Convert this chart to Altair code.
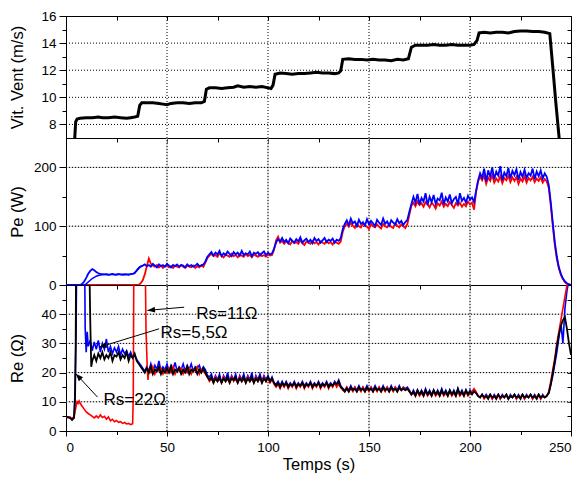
import math
import altair as alt
import pandas as pd

FONT = "Liberation Sans"

# ---------------- data ----------------
wind_t = [4.3, 4.8, 5.5, 7, 10, 13, 16, 18, 21, 24, 27, 30, 32, 34, 35.5, 36.5, 37.5, 40, 43, 46,
          48, 50, 52, 55, 58, 61, 64, 67, 68.5, 69.5, 71, 74, 77, 80, 83, 85, 88, 91, 94, 97,
          100, 101.5, 102.5, 103.5, 106, 109, 112, 115, 118, 121, 124, 127, 130, 133, 135, 136, 137, 140, 143, 146,
          149, 152, 155, 158, 161, 164, 167, 169.5, 171, 173, 176, 179, 182, 185, 188, 191, 194, 197, 200, 202,
          203.5, 204.5, 207, 210, 213, 216, 219, 222, 225, 228, 231, 234, 237, 239.5, 241, 242.5, 244.2]
wind_v = [6.9, 8.2, 8.4, 8.45, 8.5, 8.5, 8.55, 8.5, 8.5, 8.55, 8.5, 8.45, 8.5, 8.55, 8.6, 9.4, 9.6, 9.6, 9.6, 9.55,
          9.5, 9.45, 9.55, 9.6, 9.6, 9.55, 9.6, 9.6, 9.7, 10.6, 10.7, 10.7, 10.65, 10.7, 10.75, 10.85, 10.75, 10.8, 10.75, 10.8,
          10.7, 10.65, 10.9, 11.7, 11.8, 11.75, 11.7, 11.75, 11.75, 11.8, 11.85, 11.8, 11.8, 11.75, 11.8, 11.95, 12.8, 12.85, 12.8, 12.8,
          12.75, 12.8, 12.75, 12.75, 12.7, 12.8, 12.75, 12.85, 13.7, 13.85, 13.85, 13.85, 13.9, 13.85, 13.85, 13.9, 13.85, 13.85, 13.85, 13.9,
          14.2, 14.75, 14.8, 14.75, 14.8, 14.8, 14.75, 14.85, 14.9, 14.9, 14.85, 14.85, 14.8, 14.7, 12.2, 9.6, 6.9]

pe_t = list(range(251))
pe_blue = ([0] * 8 +
           [2, 6, 12, 19, 24, 27, 25, 22, 20, 19, 18.5, 18, 18.5, 17.5, 18, 19, 18, 17.5, 18.5, 18, 17.5, 18.5, 18, 17.5, 18.5, 19, 20] +
           [25, 29, 32, 33, 35, 32, 34, 31, 36, 33, 30, 35, 32, 34, 31, 36, 33, 30, 34, 32, 35, 31, 34, 33, 30, 35, 32, 34, 31, 33, 36, 32, 33, 35] +
           [40, 48, 52, 56, 50, 55, 52, 58, 49, 54, 51, 57, 53, 49, 56, 52, 55, 50, 58, 51, 54, 52, 57, 49, 55, 53, 56, 50, 54, 57, 51, 55, 52, 54] +
           [62, 72, 78, 74, 80, 73, 77, 71, 79, 75, 72, 78, 74, 81, 72, 76, 79, 73, 77, 71, 80, 75, 78, 72, 76, 80, 73, 77, 75, 79, 72, 77, 75, 80] +
           [95, 104, 110, 102, 113, 105, 108, 100, 111, 104, 107, 101, 112, 103, 109, 105, 100, 111, 106, 102, 113, 104, 108, 101, 110, 106, 103, 112, 105, 109, 102, 107, 111] +
           [125, 138, 150, 140, 155, 137, 148, 142, 156, 136, 150, 141, 153, 138, 147, 144, 157, 137, 149, 142, 154, 139, 146, 150, 137, 156, 143, 148, 140, 152, 145, 149, 141] +
           [160, 178, 190, 182, 198, 176, 195, 184, 200, 180, 193, 186, 202, 178, 191, 185, 199, 181, 194, 187, 197, 179, 192, 184, 196, 182, 190, 186, 198, 180, 193, 185, 195, 181, 190, 184] +
           [170, 140, 105, 72, 48, 30, 19, 11, 6, 3, 1, 0])
pe_red = ([0] * 37 +
          [3, 8, 18, 32, 45, 36] +
          [33, 31, 34, 30, 33, 29, 32, 34, 30, 32, 29, 33, 31, 30, 34, 31, 29, 33, 31, 30, 33, 29, 32, 30, 34, 31] +
          [38, 46, 50, 53, 49, 51, 48, 54, 50, 47, 52, 50, 48, 53, 49, 51, 47, 52, 50, 48, 53, 49, 51, 47, 52, 50, 48, 53, 49, 51, 48, 52, 50, 51] +
          [60, 76, 82, 72, 75, 70, 74, 72, 69, 75, 71, 73, 70, 76, 71, 68, 74, 72, 70, 75, 71, 73, 69, 74, 72, 70, 75, 71, 73, 69, 74, 72, 70, 74] +
          [90, 100, 104, 99, 106, 101, 97, 104, 100, 98, 105, 101, 99, 95, 104, 100, 98, 103, 99, 96, 104, 100, 98, 103, 99, 97, 105, 101, 98, 103, 100, 97, 104] +
          [120, 135, 140, 134, 142, 136, 139, 133, 141, 137, 132, 140, 136, 130, 139, 135, 142, 133, 138, 134, 141, 136, 131, 139, 135, 140, 133, 138, 134, 142, 137, 140, 128] +
          [158, 176, 184, 178, 186, 172, 183, 177, 187, 174, 181, 176, 185, 173, 182, 178, 186, 175, 183, 177, 184, 172, 181, 176, 185, 174, 182, 178, 184, 175, 181, 177, 183, 174, 180, 176] +
          [165, 135, 100, 68, 44, 28, 17, 10, 5, 2, 1, 0])
pe_blue2_t = list(range(39))
pe_blue2 = ([0] * 10 +
            [2, 5, 8, 11, 13, 15, 16, 17, 17.5, 18, 18, 17.5, 18, 18, 17.5, 18, 18.5, 18, 18, 17.5, 18, 18, 18.5, 19, 21, 24, 28, 31, 33])

re_black_t = [0, 1, 2, 3, 4, 4.5, 4.8, 5.0, 11.5, 12, 12.5] + list(range(13, 251))
re_black = ([5, 4.8, 4.5, 3.8, 4.5, 12, 30, 60, 60, 38, 22] +
            [24, 26, 24, 26.5, 25, 27, 24.5, 26, 25, 27, 24, 26, 25.5, 27, 24.5, 26, 25, 27, 24, 26, 25, 26.5, 24] +
            [23, 22, 21, 20, 21.5, 20, 22, 19.5, 21, 20.5, 22, 19.5, 21, 20, 21.5, 20, 22, 19.5, 21, 20.5, 21.5, 19.5, 21, 20, 22, 19.5, 21, 20.5, 21.5, 19.5, 21, 20, 21.5, 20] +
            [18.5, 17.5, 18.5, 16.5, 18, 17, 18.5, 16.5, 18, 17, 18.5, 16.5, 18, 17.5, 18.5, 16.5, 18, 17, 18.5, 16.5, 18, 17, 18.5, 16.5, 18, 17, 18.5, 16.5, 18, 17, 18.5, 17, 18, 16.5] +
            [15.5, 16.5, 15, 16.5, 15.5, 16.5, 15, 16, 15.5, 16.5, 15, 16, 15.5, 16.5, 15, 16, 15.5, 16.5, 15, 16, 15.5, 16.5, 15, 16, 15.5, 16.5, 15, 16, 15.5, 16.5, 16, 17, 15] +
            [14.5, 13.5, 14.5, 13.5, 15, 14, 14.5, 13.5, 15, 14, 14.5, 13.5, 15, 14, 14.5, 13.5, 15, 14, 14.5, 13.5, 15, 14, 14.5, 13.5, 15, 14, 14.5, 13.5, 15, 14, 14.5, 14, 14.5, 13.5] +
            [12.5, 13.5, 12, 14, 12.5, 13.5, 12, 14, 12.5, 13.5, 12, 14, 12.5, 13.5, 12, 14, 12.5, 13.5, 12, 14, 12.5, 13.5, 12, 14.5, 12.5, 13.5, 12, 14, 12.5, 13.5, 12.5, 13.5, 13] +
            [12, 11.5, 12.5, 11.5, 12, 11, 12.5, 11.5, 12, 11, 12.5, 11.5, 12, 11.5, 12.5, 11, 12, 11.5, 12.5, 11.5, 12, 11, 12.5, 11.5, 12, 11.5, 12.5, 11.5, 12, 11, 12.5, 11.5, 12, 11.5, 12] +
            [13, 16, 20, 24, 29, 33, 36, 38, 39, 35, 30, 26])

re_red_t = [0, 1, 2, 3, 4, 5, 5.5, 6, 6.5, 7] + list(range(8, 34)) + [33.3, 33.6, 39.2, 39.6, 40.2, 40.6] + list(range(41, 251))
re_red = ([5, 4.5, 4.8, 4, 5, 8.5, 10, 9.5, 10.3, 9.5] +
          [8.5, 7.5, 6.5, 6, 5.5, 5, 4.5, 5.2, 4.5, 5.5, 4.6, 5, 4, 4.8, 3.5, 4, 3.2, 3.6, 3, 3.2, 2.6, 2.9, 2.4, 2.6, 2.2, 2.5] +
          [12, 60, 60, 35, 22, 17.5] +
          [21, 20, 22, 19.5, 21, 20.5, 21.5, 19.5, 21, 20, 21.5, 20, 22, 19.5, 21, 20.5, 21.5, 19.5, 21, 20, 21.5, 19.5, 21, 20.5, 22, 19.5, 21, 20.5] +
          [19.5, 18.5, 17, 18, 16.5, 18.5, 17, 18, 16.5, 18.5, 17, 18, 16.5, 18.5, 17, 18, 16.5, 18.5, 17, 18, 16.5, 18.5, 17, 18, 16.5, 18.5, 17, 18, 16.5, 18.5, 17, 18, 16.5, 17.5] +
          [16, 15, 16, 14.5, 16, 15, 16.5, 14.5, 16, 15, 16.5, 14.5, 16, 15, 16.5, 14.5, 16, 15, 16.5, 14.5, 16, 15, 16.5, 14.5, 16, 15, 16.5, 14.5, 16, 15, 16.5, 15, 16, 15] +
          [14, 13.5, 15, 13.5, 14.5, 13.5, 15, 13.5, 14.5, 13.5, 15, 13.5, 14.5, 13.5, 15, 13.5, 14.5, 13.5, 15, 13.5, 14.5, 13.5, 15, 13.5, 14.5, 13.5, 15, 13.5, 14.5, 14, 15, 14, 14.5, 13.5] +
          [12.5, 13, 12, 13.5, 12, 13, 12, 13.5, 12, 13, 12, 13.5, 12, 13, 12, 13.5, 12, 13, 12, 13.5, 12, 13, 12, 13.5, 12, 13, 12, 13.5, 12, 13, 13.5, 14.5, 13.5] +
          [12, 11.5, 12.5, 11, 12, 11.5, 12.5, 11, 12, 11.5, 12.5, 11, 12, 11.5, 12.5, 11, 12, 11.5, 12.5, 11, 12, 11.5, 12.5, 11, 12, 11.5, 12.5, 11, 12, 11.5, 12.5, 11, 12, 11.5, 12] +
          [13.5, 17, 21, 25, 30, 34, 38, 42, 46, 50, 52, 53])

re_blue_t = [0, 1, 2, 3, 4, 4.5, 5, 5.3, 9.2, 9.5, 10, 10.5, 11] + list(range(12, 251))
re_blue = ([5, 4.6, 4.6, 4, 5, 14, 35, 60, 60, 35, 27, 34, 29] +
           [31, 27.5, 30.5, 28, 31, 27, 30, 28, 31.5, 27, 29, 26.5, 28.5, 27, 29, 26, 28, 26.5, 27.5, 25.5, 27, 25, 26, 24.5] +
           [23.5, 22.5, 21.5, 20.5, 22, 20.5, 23, 20.5, 22.5, 21, 24, 20.5, 22, 21, 23, 20.5, 22.5, 21, 23.5, 20.5, 22, 21, 23, 20.5, 22.5, 21, 23, 20.5, 22, 21.5, 22.5, 20.5, 22, 21] +
           [19, 18.5, 19.5, 17, 19, 17.5, 19.5, 16.5, 19, 17.5, 20, 17, 19, 17.5, 19.5, 16.5, 19, 17.5, 19.5, 17, 19, 17.5, 20, 16.5, 19, 17.5, 19.5, 17, 19, 17.5, 19, 17, 18.5, 16.5] +
           [16, 17, 15.5, 17, 15.5, 17, 15.5, 16.5, 15.5, 17, 15.5, 16.5, 15.5, 17, 15.5, 16.5, 15.5, 17, 15.5, 16.5, 15.5, 17, 15.5, 16.5, 15.5, 17, 15.5, 16.5, 15.5, 17, 16, 17.5, 15.5] +
           [14.5, 14, 15, 14, 15.5, 14, 15, 14, 15.5, 14, 15, 14, 15.5, 14, 15, 14, 15.5, 14, 15, 14, 15.5, 14, 15, 14, 15.5, 14, 15, 14, 15.5, 14, 15, 14.5, 15, 14] +
           [12.5, 14, 12.5, 14, 12.5, 14, 12.5, 14.5, 12.5, 14, 12.5, 14, 12.5, 14, 12.5, 14.5, 12.5, 14, 12.5, 14, 12.5, 14, 12.5, 14.5, 12.5, 14, 12.5, 14, 12.5, 14, 13, 14, 13] +
           [12, 11.5, 12.5, 11.5, 12.5, 11.5, 12.5, 11, 12.5, 11.5, 12.5, 11, 12.5, 11.5, 12.5, 11, 12.5, 11.5, 12.5, 11, 12.5, 11.5, 12.5, 11, 12.5, 11.5, 12.5, 11, 12.5, 11.5, 12.5, 11, 12.5, 11.5, 12] +
           [13, 16, 19, 23, 27, 32, 37, 30, 42, 48, 52, 55])

ann_text = ["Rs=11\u03a9", "Rs=5,5\u03a9", "Rs=22\u03a9"]
ann_t = [64.5, 46.8, 18.6]
ann_re = [40.2, 33.5, 10.6]
arr_t0 = [58.5, 46.1, 15.6]
arr_re0 = [42.4, 35.0, 11.6]
arr_t1 = [40.3, 16.4, 4.85]
arr_re1 = [41.3, 28.7, 19.6]

# tick values and axis ranges
X_RANGE = [0, 250]
X_MAJOR = [0, 50, 100, 150, 200, 250]
X_MINOR = [25, 75, 125, 175, 225]
X_GRID = [50, 100, 150, 200]
Y1_RANGE = [7, 16]
Y1_MAJOR = [8, 10, 12, 14, 16]
Y1_MINOR = [9, 11, 13, 15]
Y1_GRID = [8, 10, 12, 14]
Y2_RANGE = [0, 250]
Y2_MAJOR = [0, 100, 200]
Y2_MINOR = [50, 150]
Y2_GRID = [100, 200]
Y3_RANGE = [0, 50]
Y3_MAJOR = [0, 10, 20, 30, 40]
Y3_MINOR = [5, 15, 25, 35, 45]
Y3_GRID = [10, 20, 30, 40]

# ---------------- layout ----------------
W = 505
H1, H2, H3 = 122, 147, 146


def df(t, v):
    return pd.DataFrame({"t": t, "v": v})


def x_major(show):
    return alt.Axis(orient="bottom", values=X_MAJOR, tickSize=5, grid=False,
                    labels=show, labelPadding=4, titlePadding=3)


def y_major(values, h):
    return alt.Axis(orient="left", values=values, tickSize=7, grid=False, labelPadding=3,
                    titleX=-41, titleY=h / 2, titleAngle=270, titleAlign="center", titleBaseline="bottom")


def minor_axis(orient, values, size, offset=0):
    return alt.Axis(orient=orient, values=values, labels=False, domain=False, grid=False,
                    tickSize=size, offset=offset)


xs = alt.Scale(domain=X_RANGE, nice=False, zero=False)
ys1 = alt.Scale(domain=Y1_RANGE, nice=False, zero=False)
ys2 = alt.Scale(domain=Y2_RANGE, nice=False, zero=False)
ys3 = alt.Scale(domain=Y3_RANGE, nice=False, zero=False)


def grid_layers(ys, y_range, y_grid, with_base):
    """Dotted grid lines at the major tick values, with explicit end points.
    with_base adds a faint solid line under the dotted one."""
    vdf = pd.DataFrame({"gx": X_GRID, "ya": [y_range[0]] * len(X_GRID), "yb": [y_range[1]] * len(X_GRID)})
    hdf = pd.DataFrame({"gy": y_grid, "xa": [X_RANGE[0]] * len(y_grid), "xb": [X_RANGE[1]] * len(y_grid)})
    out = []
    styles = []
    if with_base:
        styles.append(dict(color="#c4c4c4", strokeWidth=1))
    styles.append(dict(color="#000000", strokeWidth=1, strokeDash=[1, 2]))
    for st in styles:
        out.append(alt.Chart(vdf).mark_rule(**st).encode(
            x=alt.X("gx:Q", scale=xs, axis=None), y=alt.Y("ya:Q", scale=ys, axis=None), y2="yb:Q"))
        out.append(alt.Chart(hdf).mark_rule(**st).encode(
            y=alt.Y("gy:Q", scale=ys, axis=None), x=alt.X("xa:Q", scale=xs, axis=None), x2="xb:Q"))
    return out


def tick_layers(data, ys, y_minor, y_all):
    """Invisible layers carrying the minor ticks and the mirrored (inward) ticks."""
    minor = alt.Chart(data).mark_line(opacity=0).encode(
        x=alt.X("t:Q", scale=xs, axis=minor_axis("bottom", X_MINOR, 3.5), title=None),
        y=alt.Y("v:Q", scale=ys, axis=minor_axis("left", y_minor, 4), title=None))
    mirror = alt.Chart(data).mark_line(opacity=0).encode(
        x=alt.X("t:Q", scale=xs, axis=minor_axis("top", X_MAJOR + X_MINOR, 4, -4), title=None),
        y=alt.Y("v:Q", scale=ys, axis=minor_axis("right", y_all, 4, -4), title=None))
    return [minor, mirror]


wind_df = df(wind_t, wind_v)

# Panel 1: wind speed
p1 = alt.layer(
    *grid_layers(ys1, Y1_RANGE, Y1_GRID, False),
    alt.Chart(wind_df).mark_line(color="black", strokeWidth=3, clip=True).encode(
        x=alt.X("t:Q", scale=xs, axis=x_major(False), title=None),
        y=alt.Y("v:Q", scale=ys1, axis=y_major(Y1_MAJOR, H1), title="Vit. Vent (m/s)")),
    *tick_layers(wind_df, ys1, Y1_MINOR, Y1_MAJOR + Y1_MINOR),
).resolve_axis(x="independent", y="independent").properties(width=W, height=H1)

# Panel 2: electrical power
pe_blue_df = df(pe_t, pe_blue)
p2 = alt.layer(
    *grid_layers(ys2, Y2_RANGE, Y2_GRID, True),
    alt.Chart(df(pe_t, pe_red)).mark_line(color="#ff0000", strokeWidth=1.8, clip=True).encode(
        x=alt.X("t:Q", scale=xs, axis=x_major(False), title=None),
        y=alt.Y("v:Q", scale=ys2, axis=y_major(Y2_MAJOR, H2), title="Pe (W)")),
    alt.Chart(df(pe_blue2_t, pe_blue2)).mark_line(color="#0000ff", strokeWidth=1.5, clip=True).encode(
        x=alt.X("t:Q", scale=xs, axis=None), y=alt.Y("v:Q", scale=ys2, axis=None)),
    alt.Chart(pe_blue_df).mark_line(color="#0000ff", strokeWidth=1.8, clip=True).encode(
        x=alt.X("t:Q", scale=xs, axis=None), y=alt.Y("v:Q", scale=ys2, axis=None)),
    *tick_layers(pe_blue_df, ys2, Y2_MINOR, Y2_MAJOR + Y2_MINOR),
).resolve_axis(x="independent", y="independent").properties(width=W, height=H2)

# annotations
kx = W / 250.0
ky = H3 / 50.0
ang = [(math.degrees(math.atan2((a1 - a0) * kx, (b1 - b0) * ky)) + 360) % 360
       for a0, b0, a1, b1 in zip(arr_t0, arr_re0, arr_t1, arr_re1)]
arr_df = pd.DataFrame({"t0": arr_t0, "r0": arr_re0, "t1": arr_t1, "r1": arr_re1, "ang": ang})
txt_df = pd.DataFrame({"t": ann_t, "v": ann_re, "label": ann_text})

# Panel 3: equivalent resistance
re_blue_df = df(re_blue_t, re_blue)
p3 = alt.layer(
    *grid_layers(ys3, Y3_RANGE, Y3_GRID, True),
    alt.Chart(re_blue_df).mark_line(color="#0000ff", strokeWidth=1.6, clip=True).encode(
        x=alt.X("t:Q", scale=xs, axis=x_major(True), title="Temps (s)"),
        y=alt.Y("v:Q", scale=ys3, axis=y_major(Y3_MAJOR, H3), title="Re (\u03a9)")),
    alt.Chart(df(re_red_t, re_red)).mark_line(color="#ff0000", strokeWidth=1.6, clip=True).encode(
        x=alt.X("t:Q", scale=xs, axis=None), y=alt.Y("v:Q", scale=ys3, axis=None)),
    alt.Chart(df(re_black_t, re_black)).mark_line(color="black", strokeWidth=1.8, clip=True).encode(
        x=alt.X("t:Q", scale=xs, axis=None), y=alt.Y("v:Q", scale=ys3, axis=None)),
    alt.Chart(arr_df).mark_rule(color="black", strokeWidth=1).encode(
        x=alt.X("t0:Q", scale=xs, axis=None), y=alt.Y("r0:Q", scale=ys3, axis=None),
        x2="t1:Q", y2="r1:Q"),
    alt.Chart(arr_df).mark_point(shape="M0,0L0.38,1L-0.38,1Z", filled=True, color="black",
                                 opacity=1, size=230).encode(
        x=alt.X("t1:Q", scale=xs, axis=None), y=alt.Y("r1:Q", scale=ys3, axis=None),
        angle=alt.Angle("ang:Q", scale=None)),
    alt.Chart(txt_df).mark_text(align="left", baseline="middle", font=FONT, fontSize=17,
                                color="black").encode(
        x=alt.X("t:Q", scale=xs, axis=None), y=alt.Y("v:Q", scale=ys3, axis=None), text="label:N"),
    *tick_layers(re_blue_df, ys3, Y3_MINOR, Y3_MAJOR + Y3_MINOR),
).resolve_axis(x="independent", y="independent").properties(width=W, height=H3)

chart = alt.vconcat(p1, p2, p3, spacing=0, bounds="flush").properties(
    padding={"left": 0, "top": 0, "right": 0, "bottom": 0}
).configure_view(stroke="black", strokeWidth=1).configure_axis(
    labelFont=FONT, titleFont=FONT, labelFontSize=13.5, titleFontSize=16.5,
    titleFontWeight="normal", labelColor="black", titleColor="black",
    domainColor="black", tickColor="black", domainWidth=1, tickWidth=1
)

chart.save("out.html", embed_options={"renderer": "svg", "actions": False})
